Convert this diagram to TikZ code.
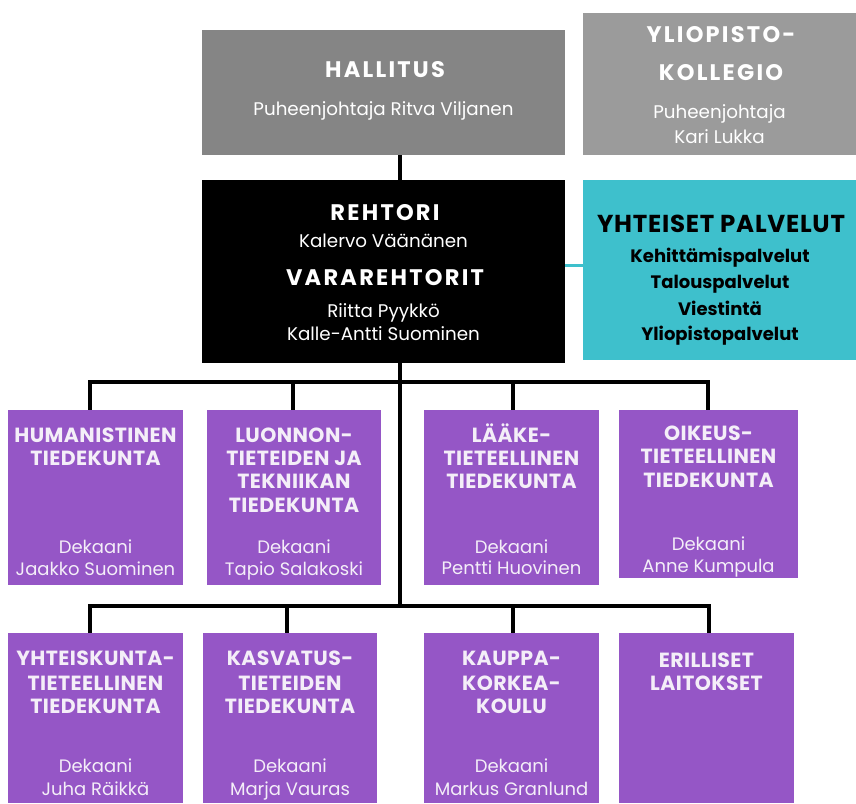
\documentclass[tikz,border=0pt]{standalone}
\usepackage{fontspec}
\setmainfont{Poppins}
\newfontfamily\facfont[LetterSpace=2]{Poppins}
\newfontfamily\bigfont[LetterSpace=10]{Poppins}
\newfontfamily\palfont[LetterSpace=3]{Poppins}
\definecolor{grayA}{HTML}{858585}
\definecolor{grayB}{HTML}{9B9B9B}
\definecolor{tealbox}{HTML}{3EC0CC}
\definecolor{purp}{HTML}{9556C6}
\definecolor{paletxt}{HTML}{F4EEF8}
\begin{document}
\begin{tikzpicture}[x=1pt,y=-1pt,
  box/.style={inner sep=0pt, draw=none, anchor=north west},
  conn/.style={line width=4pt, black},
  tconn/.style={line width=3pt, tealbox},
  ttl/.style={anchor=base, inner sep=0pt, font=\facfont\bfseries\fontsize{20.5}{22}\selectfont, text=paletxt},
  sub/.style={anchor=base, inner sep=0pt, font=\fontsize{18}{20}\selectfont, text=paletxt},
  bigttl/.style={anchor=base, inner sep=0pt, font=\bigfont\bfseries\fontsize{22.5}{24}\selectfont, text=white},
  bigsub/.style={anchor=base, inner sep=0pt, font=\fontsize{18.3}{20}\selectfont, text=white},
  palttl/.style={anchor=base, inner sep=0pt, font=\palfont\bfseries\fontsize{24.5}{26}\selectfont, text=black},
  palsub/.style={anchor=base, inner sep=0pt, font=\bfseries\fontsize{18}{20}\selectfont, text=black},
]
\useasboundingbox (0,0) rectangle (856,803);
\fill[white] (0,0) rectangle (856,803);

% boxes
\node[box, fill=grayA, minimum width=363, minimum height=125] (hal) at (202,30) {};
\node[box, fill=grayB, minimum width=273, minimum height=142] (kol) at (583,13) {};
\node[box, fill=black, minimum width=363, minimum height=183] (reh) at (202,180) {};
\node[box, fill=tealbox, minimum width=273, minimum height=180] (pal) at (583,180) {};

\node[box, fill=purp, minimum width=175, minimum height=175] (f1) at (8,410) {};
\node[box, fill=purp, minimum width=174, minimum height=175] (f2) at (207,410) {};
\node[box, fill=purp, minimum width=175, minimum height=175] (f3) at (424,410) {};
\node[box, fill=purp, minimum width=179, minimum height=168] (f4) at (619,410) {};
\node[box, fill=purp, minimum width=175, minimum height=170] (f5) at (8,633) {};
\node[box, fill=purp, minimum width=174, minimum height=170] (f6) at (203,633) {};
\node[box, fill=purp, minimum width=175, minimum height=170] (f7) at (424,633) {};
\node[box, fill=purp, minimum width=175, minimum height=170] (f8) at (619,633) {};

% connectors
\coordinate (bus1) at (400,382);
\coordinate (bus2) at (400,606);
\coordinate (b1l) at (90,382);
\coordinate (b1r) at (708,382);
\coordinate (b2l) at (90,606);
\coordinate (b2r) at (709,606);
\draw[conn] (hal.south -| bus1) -- (reh.north -| bus1);
\draw[conn] (reh.south -| bus1) -- (bus2);
\draw[conn] ([xshift=-2pt]b1l) -- ([xshift=2pt]b1r);
\draw[conn] ([xshift=-2pt]b2l) -- ([xshift=2pt]b2r);
\draw[conn] (b1l) -- (f1.north -| b1l);
\draw[conn] (293,382) -- (f2.north -| 293,0);
\draw[conn] (513,382) -- (f3.north -| 513,0);
\draw[conn] (b1r) -- (f4.north -| b1r);
\draw[conn] (b2l) -- (f5.north -| b2l);
\draw[conn] (287,606) -- (f6.north -| 287,0);
\draw[conn] (513,606) -- (f7.north -| 513,0);
\draw[conn] (b2r) -- (f8.north -| b2r);
\draw[tconn] (reh.east |- 0,265) -- (pal.west |- 0,265);

% top texts
\node[bigttl] (hal1) at (385,77) {HALLITUS};
\node[bigsub] (hal2) at (383.5,115) {Puheenjohtaja Ritva Viljanen};
\node[bigttl] (kol1) at (721,42) {YLIOPISTO-};
\node[bigttl] (kol2) at (721,80) {KOLLEGIO};
\node[bigsub] (kol3) at (719.5,118) {Puheenjohtaja};
\node[bigsub] (kol4) at (719.5,143) {Kari Lukka};

\node[bigttl] (reh1) at (385,220) {REHTORI};
\node[bigsub] (reh2) at (383.5,247) {Kalervo Väänänen};
\node[bigttl] (reh3) at (385,285) {VARAREHTORIT};
\node[bigsub] (reh4) at (383.5,317) {Riitta Pyykkö};
\node[bigsub] (reh5) at (383.5,340) {Kalle-Antti Suominen};

\node[palttl] (pal1) at (721,232) {YHTEISET PALVELUT};
\node[palsub] (pal2) at (720,262) {Kehittämispalvelut};
\node[palsub] (pal3) at (720,288) {Talouspalvelut};
\node[palsub] (pal4) at (720,315) {Viestintä};
\node[palsub] (pal5) at (720,340) {Yliopistopalvelut};

% faculty row 1
\node[ttl] (t1a) at (95.5,442) {HUMANISTINEN};
\node[ttl] (t1b) at (95.5,465) {TIEDEKUNTA};
\node[sub] (d1a) at (95.5,553) {Dekaani};
\node[sub] (d1b) at (95.5,575) {Jaakko Suominen};

\node[ttl] (t2a) at (294,442) {LUONNON-};
\node[ttl] (t2b) at (294,465) {TIETEIDEN JA};
\node[ttl] (t2c) at (294,488) {TEKNIIKAN};
\node[ttl] (t2d) at (294,512) {TIEDEKUNTA};
\node[sub] (d2a) at (294,553) {Dekaani};
\node[sub] (d2b) at (294,575) {Tapio Salakoski};

\node[ttl] (t3a) at (511.5,442) {LÄÄKE-};
\node[ttl] (t3b) at (511.5,465) {TIETEELLINEN};
\node[ttl] (t3c) at (511.5,488) {TIEDEKUNTA};
\node[sub] (d3a) at (511.5,553) {Dekaani};
\node[sub] (d3b) at (511.5,574) {Pentti Huovinen};

\node[ttl] (t4a) at (708.5,440) {OIKEUS-};
\node[ttl] (t4b) at (708.5,463) {TIETEELLINEN};
\node[ttl] (t4c) at (708.5,487) {TIEDEKUNTA};
\node[sub] (d4a) at (708.5,550) {Dekaani};
\node[sub] (d4b) at (708.5,572) {Anne Kumpula};

% faculty row 2
\node[ttl] (t5a) at (95.5,665) {YHTEISKUNTA-};
\node[ttl] (t5b) at (95.5,690) {TIETEELLINEN};
\node[ttl] (t5c) at (95.5,713) {TIEDEKUNTA};
\node[sub] (d5a) at (95.5,772) {Dekaani};
\node[sub] (d5b) at (95.5,795) {Juha Räikkä};

\node[ttl] (t6a) at (290,665) {KASVATUS-};
\node[ttl] (t6b) at (290,690) {TIETEIDEN};
\node[ttl] (t6c) at (290,713) {TIEDEKUNTA};
\node[sub] (d6a) at (290,772) {Dekaani};
\node[sub] (d6b) at (290,795) {Marja Vauras};

\node[ttl] (t7a) at (511.5,665) {KAUPPA-};
\node[ttl] (t7b) at (511.5,690) {KORKEA-};
\node[ttl] (t7c) at (511.5,713) {KOULU};
\node[sub] (d7a) at (511.5,772) {Dekaani};
\node[sub] (d7b) at (511.5,795) {Markus Granlund};

\node[ttl] (t8a) at (706.5,667) {ERILLISET};
\node[ttl] (t8b) at (706.5,690) {LAITOKSET};
\end{tikzpicture}
\end{document}
